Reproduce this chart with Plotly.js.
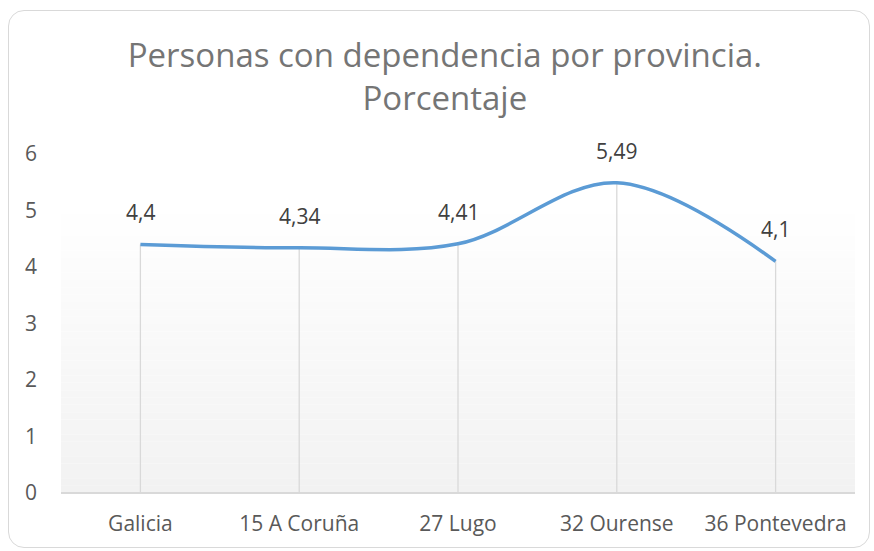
<!DOCTYPE html>
<html><head><meta charset="utf-8">
<script src="https://cdn.plot.ly/plotly-3.0.1.min.js"></script>
<style>
html,body{margin:0;padding:0;background:#fff;}
#frame{position:absolute;left:8px;top:10px;width:860px;height:536px;border:1px solid #d9d9d9;border-radius:16px;}
#chart{position:absolute;left:0;top:0;width:874px;height:551px;}
</style></head>
<body>
<div id="frame"></div>
<div id="chart"></div>
<script>
const categories = ['Galicia','15 A Coruña','27 Lugo','32 Ourense','36 Pontevedra'];
const values = [4.4, 4.34, 4.41, 5.49, 4.1];
const labels = ['4,4','4,34','4,41','5,49','4,1'];

const FONT = '"Open Sans", sans-serif';

// background gradient bands (white at top -> light grey at bottom)
const shapes = [];
const nBands = 40, gTop = 5.2;
for (let i = 0; i < nBands; i++) {
  const y0 = gTop * i / nBands, y1 = gTop * (i + 1) / nBands;
  const t = (i + 0.5) / nBands;
  const c = Math.round(242 + (255 - 242) * t);
  shapes.push({type:'rect', xref:'paper', yref:'y', x0:0, x1:1, y0:y0, y1:y1,
    fillcolor:`rgb(${c},${c},${c})`, line:{width:0}, layer:'below'});
}

const annotations = categories.map((c, i) => ({
  x:c, y:values[i], xref:'x', yref:'y', text:labels[i], showarrow:false,
  yanchor:'bottom', yshift:16, font:{family:FONT, size:21, color:'#404040'}
}));

const zeros = values.map(() => 0);
const data = [
  {x:categories, y:values, type:'scatter', mode:'markers', marker:{size:0.1, color:'rgba(0,0,0,0)'},
   error_y:{type:'data', symmetric:false, array:zeros, arrayminus:values, width:0, thickness:1.3, color:'#d9d9d9'},
   hoverinfo:'skip', showlegend:false},
  {x:categories, y:values, type:'scatter', mode:'lines', line:{shape:'spline', color:'#5b9bd5', width:3.5},
   cliponaxis:false, showlegend:false}
];

const layout = {
  width:874, height:551,
  paper_bgcolor:'rgba(0,0,0,0)', plot_bgcolor:'rgba(0,0,0,0)',
  margin:{l:61, r:19, t:154, b:58},
  title:{text:'Personas con dependencia por provincia.<br>Porcentaje', x:0.509, xanchor:'center',
    y:0.879, yanchor:'top', yref:'container',
    font:{family:FONT, size:33, color:'#757575'}},
  xaxis:{range:[-0.5,4.5], showgrid:false, zeroline:false, showline:false, ticks:'', ticklabelstandoff:16,
    tickfont:{family:FONT, size:21, color:'#595959'}, fixedrange:true},
  yaxis:{range:[0,6], dtick:1, showgrid:false, zeroline:true, zerolinecolor:'#d9d9d9', zerolinewidth:1.3,
    showline:false, ticks:'', ticklabelstandoff:23,
    tickfont:{family:FONT, size:21, color:'#595959'}, fixedrange:true},
  shapes:shapes, annotations:annotations
};
Plotly.newPlot('chart', data, layout, {displayModeBar:false, staticPlot:true});
</script>
</body></html>
